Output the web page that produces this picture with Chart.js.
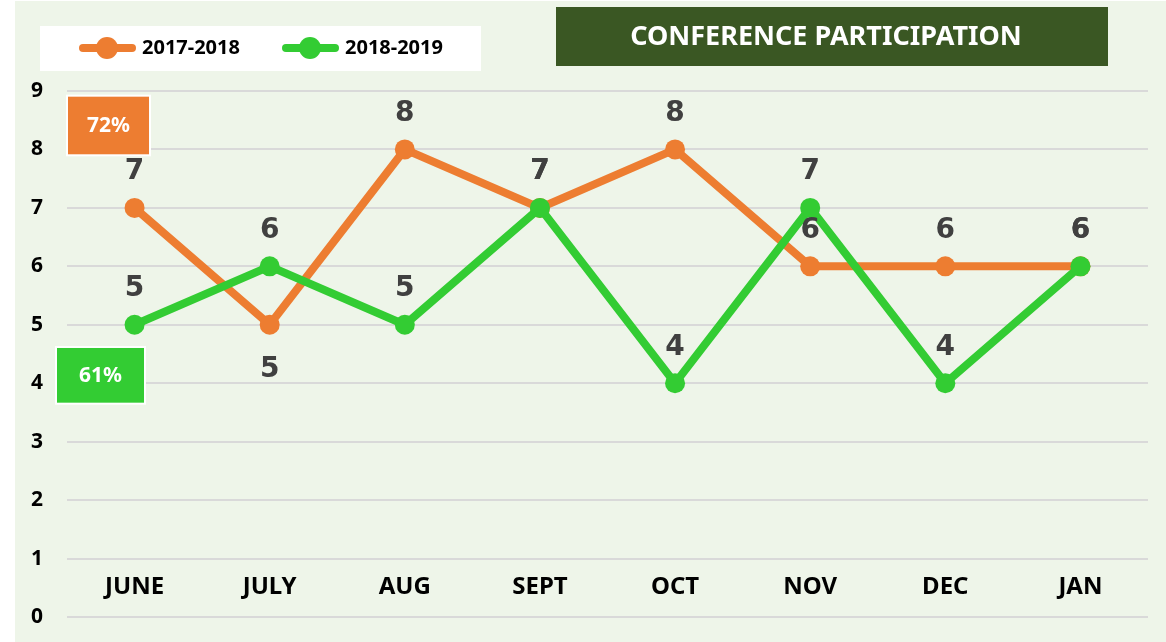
<!DOCTYPE html>
<html>
<head>
<meta charset="utf-8">
<script src="https://cdn.jsdelivr.net/npm/chart.js@4.4.0/dist/chart.umd.min.js"></script>
<style>
  html, body { margin: 0; padding: 0; background: #fff; }
  #wrap { width: 1166px; height: 642px; position: relative; }
</style>
</head>
<body>
<div id="wrap"><canvas id="chart"></canvas></div>
<script>
const months = ['JUNE', 'JULY', 'AUG', 'SEPT', 'OCT', 'NOV', 'DEC', 'JAN'];
const season1718 = [7, 5, 8, 7, 8, 6, 6, 6];
const season1819 = [5, 6, 5, 7, 4, 7, 4, 6];
const seriesNames = ['2017-2018', '2018-2019'];
const seriesPct = ['72%', '61%'];
const yTicks = [0, 1, 2, 3, 4, 5, 6, 7, 8, 9];
const chartTitle = 'CONFERENCE PARTICIPATION';

const ORANGE = '#ED7D31';
const GREEN = '#33CC33';
const BG = '#EEF5E9';
const LABEL_FONT = '"Noto Sans", "Open Sans", sans-serif';

// value labels: which points put their number under the marker
const labelsBelow = { 0: [1] };

const backdrop = {
  id: 'backdrop',
  beforeDraw(chart) {
    const { ctx, width, height } = chart;
    ctx.save();
    ctx.fillStyle = '#fff';
    ctx.fillRect(0, 0, width, height);
    ctx.fillStyle = BG;
    ctx.fillRect(15, 1, width - 15, height - 1);
    ctx.restore();
  }
};

const valueLabels = {
  id: 'valueLabels',
  afterDatasetsDraw(chart) {
    const { ctx } = chart;
    ctx.save();
    ctx.font = 'bold 28px "DejaVu Sans", sans-serif';
    ctx.fillStyle = '#404040';
    ctx.textAlign = 'center';
    ctx.textBaseline = 'middle';
    chart.data.datasets.forEach((ds, di) => {
      const meta = chart.getDatasetMeta(di);
      const below = labelsBelow[di] || [];
      meta.data.forEach((pt, i) => {
        const dy = below.includes(i) ? 45 : -36;
        ctx.fillText(String(ds.data[i]), pt.x, pt.y + dy);
      });
    });
    ctx.restore();
  }
};

const headerBoxes = {
  id: 'headerBoxes',
  afterDraw(chart) {
    const { ctx } = chart;
    const y = chart.scales.y;
    ctx.save();

    // legend
    ctx.fillStyle = '#fff';
    ctx.fillRect(40, 26, 441, 45);
    ctx.font = 'bold 20px ' + LABEL_FONT;
    ctx.textBaseline = 'middle';
    ctx.textAlign = 'left';
    const legendX = [80, 283];
    chart.data.datasets.forEach((ds, i) => {
      const x0 = legendX[i];
      ctx.strokeStyle = ds.borderColor;
      ctx.lineWidth = 8;
      ctx.lineCap = 'round';
      ctx.beginPath();
      ctx.moveTo(x0 + 3, 48);
      ctx.lineTo(x0 + 52, 48);
      ctx.stroke();
      ctx.fillStyle = ds.borderColor;
      ctx.beginPath();
      ctx.arc(x0 + 27, 48, 11, 0, Math.PI * 2);
      ctx.fill();
      ctx.fillStyle = '#000';
      ctx.fillText(ds.label, x0 + 62, 48);
    });

    // title
    ctx.fillStyle = '#3A5723';
    ctx.fillRect(556, 7, 552, 59);
    ctx.fillStyle = '#fff';
    ctx.textAlign = 'center';
    ctx.font = 'bold 27px ' + LABEL_FONT;
    ctx.fillText(chartTitle, 826, 37);

    // percentage boxes
    const boxes = [
      { x: 67, w: 83, top: 8.92, bottom: 7.9, color: ORANGE },
      { x: 56, w: 89, top: 4.62, bottom: 3.65, color: GREEN }
    ];
    boxes.forEach((b, i) => {
      const t = y.getPixelForValue(b.top);
      const btm = y.getPixelForValue(b.bottom);
      ctx.fillStyle = b.color;
      ctx.fillRect(b.x, t, b.w, btm - t);
      ctx.strokeStyle = '#fff';
      ctx.lineWidth = 2;
      ctx.strokeRect(b.x, t, b.w, btm - t);
      ctx.fillStyle = '#fff';
      ctx.font = 'bold 21px ' + LABEL_FONT;
      ctx.fillText(seriesPct[i], b.x + b.w / 2, (t + btm) / 2 + 1);
    });
    ctx.restore();
  }
};

new Chart(document.getElementById('chart'), {
  type: 'line',
  data: {
    labels: months,
    datasets: [{
      label: seriesNames[0],
      data: season1718,
      borderColor: ORANGE,
      backgroundColor: ORANGE,
      borderWidth: 8,
      pointRadius: 10,
      pointBorderWidth: 0,
      pointBackgroundColor: ORANGE,
      order: 2
    }, {
      label: seriesNames[1],
      data: season1819,
      borderColor: GREEN,
      backgroundColor: GREEN,
      borderWidth: 8,
      pointRadius: 10,
      pointBorderWidth: 0,
      pointBackgroundColor: GREEN,
      order: 1
    }]
  },
  options: {
    responsive: true,
    maintainAspectRatio: false,
    animation: false,
    layout: { padding: { left: 15, top: 91, right: 18, bottom: 25 } },
    plugins: {
      legend: { display: false },
      title: { display: false },
      tooltip: { enabled: false }
    },
    scales: {
      x: {
        // month names sit inside the plot, just above the zero line
        position: { y: 0.9 },
        offset: true,
        grid: { display: false },
        border: { display: false },
        ticks: {
          color: '#000',
          font: { family: LABEL_FONT, size: 24, weight: 'bold' },
          padding: 0,
          maxRotation: 0
        },
        afterFit(scale) { scale.height = 0; }
      },
      y: {
        min: 0,
        max: 9,
        afterBuildTicks(scale) { scale.ticks = yTicks.map(v => ({ value: v })); },
        grid: { color: '#D9D9D9', lineWidth: 2, drawTicks: false },
        border: { display: false },
        ticks: {
          color: '#000',
          font: { family: LABEL_FONT, size: 21, weight: 'bold' },
          padding: 24
        },
        afterFit(scale) {
          scale.width = 52;
          scale.paddingTop = 0;
          scale.paddingBottom = 0;
        }
      }
    }
  },
  plugins: [backdrop, valueLabels, headerBoxes]
});
</script>
</body>
</html>
